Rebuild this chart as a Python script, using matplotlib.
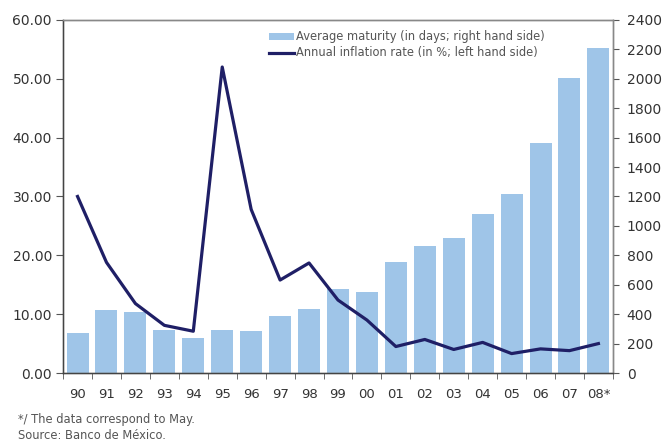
import matplotlib
matplotlib.use("Agg")
import matplotlib.pyplot as plt
import numpy as np

years = ["90", "91", "92", "93", "94", "95", "96", "97", "98", "99",
         "00", "01", "02", "03", "04", "05", "06", "07", "08*"]
maturity_days = [275, 430, 412, 295, 240, 290, 283, 385, 432, 570,
                 550, 752, 860, 915, 1078, 1220, 1562, 2005, 2210]
inflation_pct = [30.0, 18.8, 11.8, 8.1, 7.1, 52.0, 27.8, 15.8, 18.7, 12.4,
                 9.0, 4.5, 5.7, 4.0, 5.2, 3.3, 4.1, 3.8, 5.0]

bar_color = "#9fc5e8"
line_color = "#1f1f66"
txt = "#333333"

fig = plt.figure(figsize=(6.64, 4.43), dpi=100)
ax = fig.add_axes([0.095, 0.158, 0.828, 0.797])
ax2 = ax.twinx()
ax.set_zorder(ax2.get_zorder() + 1)
ax.patch.set_visible(False)

x = np.arange(len(years))
bars = ax2.bar(x, maturity_days, width=0.76, color=bar_color, zorder=1,
               label="Average maturity (in days; right hand side)")
line, = ax.plot(x, inflation_pct, color=line_color, lw=2.3, zorder=3,
                label="Annual inflation rate (in %; left hand side)")

ax.set_xlim(-0.5, len(years) - 0.5)
ax.set_ylim(0, 60)
ax2.set_ylim(0, 2400)
ax.set_yticks(np.arange(0, 61, 10))
ax.set_yticklabels([f"{v:.2f}" for v in np.arange(0, 61, 10)])
ax2.set_yticks(np.arange(0, 2401, 200))

ax.set_xticks(x)
ax.set_xticklabels(years)
ax.set_xticks(np.arange(-0.5, len(years), 1), minor=True)
ax.tick_params(axis="x", which="major", length=0, pad=11, labelsize=9.5, colors=txt)
ax.tick_params(axis="x", which="minor", length=4, direction="out", color="#555555")
ax.tick_params(axis="y", length=5, direction="out", labelsize=10, colors=txt,
               color="#555555", pad=3)
ax2.tick_params(axis="y", length=4, direction="out", labelsize=10, colors=txt,
                color="#555555", pad=6)

for a in (ax, ax2):
    for s in a.spines.values():
        s.set_color("#888888")
        s.set_linewidth(1.0)
ax.spines["left"].set_color("#444444")
ax.spines["bottom"].set_color("#444444")

leg = ax.legend([bars, line], [bars.get_label(), line.get_label()],
                loc="upper right", bbox_to_anchor=(0.895, 1.0), frameon=False,
                fontsize=8.3, handlelength=2.2, handleheight=0.5,
                handletextpad=0.15, labelspacing=0.25)
for t in leg.get_texts():
    t.set_color("#555555")

fig.text(0.027, 0.052, "*/ The data correspond to May.", fontsize=8.3,
         color="#555555", va="center")
fig.text(0.027, 0.017, "Source: Banco de México.", fontsize=8.3,
         color="#555555", va="center")

fig.savefig("out.png", dpi=100)
